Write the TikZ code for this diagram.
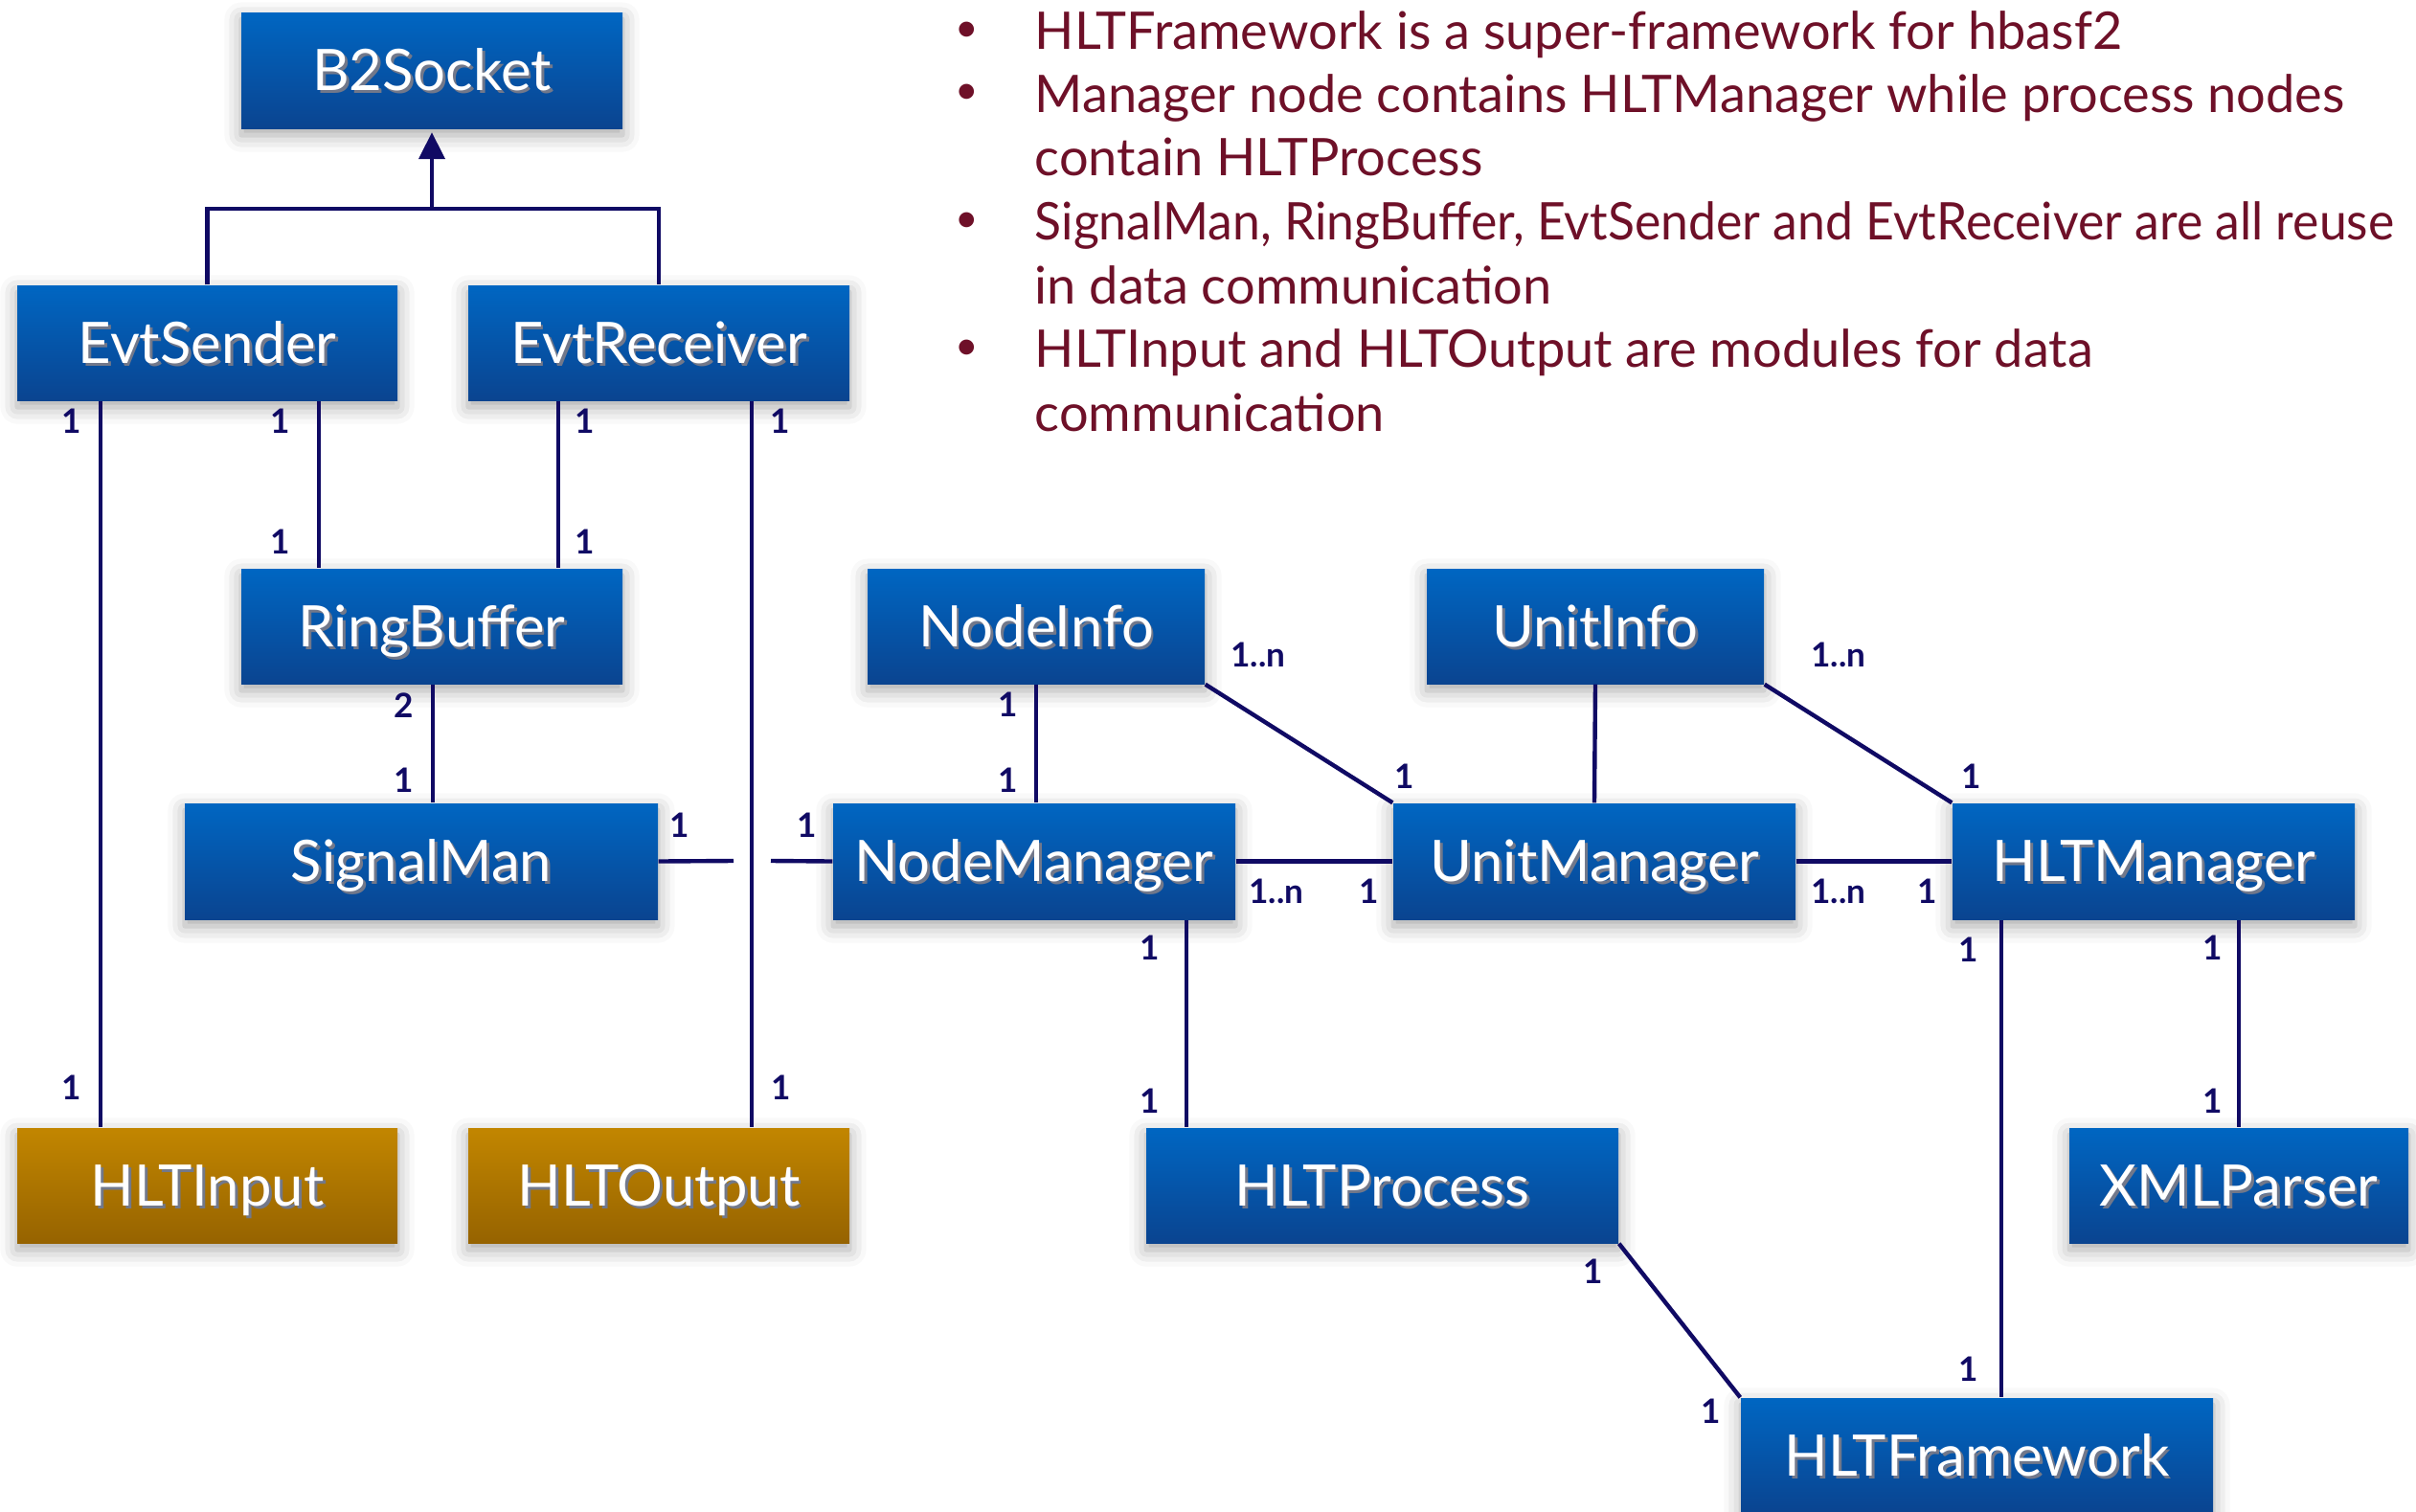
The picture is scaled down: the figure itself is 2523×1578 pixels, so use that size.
\documentclass[tikz,border=0pt]{standalone}
\usepackage{fontspec}
\setmainfont{Lato}
\usetikzlibrary{arrows.meta,shadows.blur}
\definecolor{bTop}{RGB}{0,102,194}
\definecolor{bBot}{RGB}{10,68,144}
\definecolor{gTop}{RGB}{194,134,0}
\definecolor{gBot}{RGB}{150,99,0}
\definecolor{navy}{RGB}{16,10,100}
\definecolor{wine}{RGB}{110,16,40}
\definecolor{tshadow}{RGB}{20,30,60}
\newcommand\shtxt[1]{\rlap{\kern0.8pt\raisebox{-0.8pt}{\textcolor{tshadow!60}{#1}}}\textcolor{white}{#1}}
\tikzset{
 box/.style={inner sep=0pt, top color=bTop, bottom color=bBot, draw=none,
   font=\fontsize{17}{20}\selectfont, text height=12.2pt, text depth=0pt,
   blur shadow={shadow xshift=0pt, shadow yshift=-2pt, shadow blur radius=5pt, shadow opacity=35}},
 gbox/.style={box, top color=gTop, bottom color=gBot},
 conn/.style={draw=navy, line width=1.25pt},
 lab/.style={text=navy, font=\bfseries\fontsize{10}{12}\selectfont, inner sep=0pt},
 bul/.style={text=wine, font=\fontsize{15.4}{18}\selectfont, anchor=base west, inner sep=0pt},
 dot/.style={text=wine, font=\fontsize{12}{14}\selectfont, anchor=center, inner sep=0pt},
}
\newcommand\bx[7][box]{\node[#1, minimum width={(#5-#3)*0.01cm}, minimum height={(#6-#4)*0.01cm}] (#2) at ({(#3+#5)/2},{(#4+#6)/2}) {\shtxt{#7}};}
\begin{document}
\begin{tikzpicture}[x=0.01cm,y=-0.01cm]
\useasboundingbox (0,0) rectangle (2523,1578);
\clip (0,0) rectangle (2523,1578);
% boxes
\bx{B2Socket}{252}{13}{650}{134}{B2Socket}
\bx{EvtSender}{18}{298}{415}{418}{EvtSender}
\bx{EvtReceiver}{489}{298}{887}{418}{EvtReceiver}
\bx{RingBuffer}{252}{594}{650}{714}{RingBuffer}
\bx{NodeInfo}{906}{594}{1258}{714}{NodeInfo}
\bx{UnitInfo}{1490}{594}{1842}{714}{UnitInfo}
\bx{SignalMan}{193}{839}{687}{960}{SignalMan}
\bx{NodeManager}{870}{839}{1290}{960}{NodeManager}
\bx{UnitManager}{1455}{839}{1875}{960}{UnitManager}
\bx{HLTManager}{2039}{839}{2459}{960}{HLTManager}
\bx[gbox]{HLTInput}{18}{1178}{415}{1298}{HLTInput}
\bx[gbox]{HLTOutput}{489}{1178}{887}{1298}{HLTOutput}
\bx{HLTProcess}{1197}{1178}{1690}{1298}{HLTProcess}
\bx{XMLParser}{2161}{1178}{2515}{1298}{XMLParser}
\bx{HLTFramework}{1818}{1460}{2311}{1580}{HLTFramework}
% inheritance
\coordinate (bar) at (451,218);
\draw[conn] (EvtSender.north) |- (bar) -| (EvtReceiver.north);
\draw[conn,-{Triangle[length=0.28cm,width=0.27cm]}] (bar) -- ([yshift=-1pt]B2Socket.south);
% associations
\draw[conn] (EvtSender.south -| 105,0) -- (HLTInput.north -| 105,0);
\draw[conn] (EvtSender.south -| 333,0) -- (RingBuffer.north -| 333,0);
\draw[conn] (EvtReceiver.south -| 583,0) -- (RingBuffer.north -| 583,0);
\draw[conn] (EvtReceiver.south -| 785,0) -- (HLTOutput.north -| 785,0);
\draw[conn] (RingBuffer.south -| 452,0) -- (SignalMan.north -| 452,0);
\coordinate (jL) at (766,899);
\coordinate (jR) at (805,899);
\draw[conn] (SignalMan.east) -- (jL);
\draw[conn] (jR) -- (NodeManager.west);
\draw[conn] (NodeInfo.south -| 1082,0) -- (NodeManager.north -| 1082,0);
\draw[conn] (NodeInfo.south east) -- (UnitManager.north west);
\draw[conn] (UnitInfo.south) -- (UnitManager.north);
\draw[conn] (UnitInfo.south east) -- (HLTManager.north west);
\draw[conn] (NodeManager.east) -- (UnitManager.west);
\draw[conn] (UnitManager.east) -- (HLTManager.west);
\draw[conn] (NodeManager.south -| 1239,0) -- (HLTProcess.north -| 1239,0);
\draw[conn] (HLTManager.south -| 2090,0) -- (HLTFramework.north -| 2090,0);
\draw[conn] (HLTManager.south -| 2338,0) -- (XMLParser.north);
\draw[conn] (HLTProcess.south east) -- (HLTFramework.north west);
% multiplicity labels
\node[lab] (m1) at (75,440) {1};
\node[lab] (m2) at (75,1136) {1};
\node[lab] (m3) at (293,440) {1};
\node[lab] (m4) at (293,566) {1};
\node[lab] (m5) at (611,440) {1};
\node[lab] (m6) at (611,566) {1};
\node[lab] (m7) at (815,440) {1};
\node[lab] (m8) at (816,1136) {1};
\node[lab] (m9) at (422,737) {2};
\node[lab] (m10) at (422,815) {1};
\node[lab] (m11) at (710,862) {1};
\node[lab] (m12) at (843,862) {1};
\node[lab] (m13) at (1053,736) {1};
\node[lab] (m14) at (1053,815) {1};
\node[lab] (m15) at (1314,684) {1..n};
\node[lab] (m16) at (1467,811) {1};
\node[lab] (m17) at (1920,684) {1..n};
\node[lab] (m18) at (2059,811) {1};
\node[lab] (m19) at (1333,931) {1..n};
\node[lab] (m20) at (1430,931) {1};
\node[lab] (m21) at (1920,931) {1..n};
\node[lab] (m22) at (2013,931) {1};
\node[lab] (m23) at (1201,990) {1};
\node[lab] (m24) at (1201,1150) {1};
\node[lab] (m25) at (2056,992) {1};
\node[lab] (m26) at (2056,1430) {1};
\node[lab] (m27) at (2311,990) {1};
\node[lab] (m28) at (2311,1150) {1};
\node[lab] (m29) at (1664,1328) {1};
\node[lab] (m30) at (1787,1474) {1};
% bullet text
\node[dot] (d1) at (1010,33) {•};
\node[dot] (d2) at (1010,98) {•};
\node[dot] (d3) at (1010,232) {•};
\node[dot] (d4) at (1010,365) {•};
\node[bul] (t1) at (1080,51) {HLTFramework is a super-framework for hbasf2};
\node[bul] (t2) at (1080,117) {Manager node contains HLTManager while process nodes};
\node[bul] (t3) at (1080,183) {contain HLTProcess};
\node[bul] (t4) at (1080,250) {\scalebox{0.955}[1]{SignalMan, RingBuffer, EvtSender and EvtReceiver are all reuse}};
\node[bul] (t5) at (1080,317) {in data communication};
\node[bul] (t6) at (1080,383) {HLTInput and HLTOutput are modules for data};
\node[bul] (t7) at (1080,450) {communication};
\end{tikzpicture}
\end{document}
